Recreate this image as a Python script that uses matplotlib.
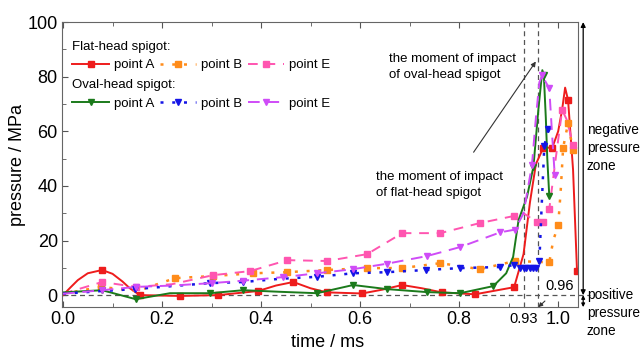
import matplotlib.pyplot as plt
from matplotlib.ticker import MultipleLocator

plt.rcParams['font.family'] = ['Liberation Sans', 'DejaVu Sans']

# flat-head spigot, point A / B / E  (time in ms, pressure in MPa)
flat_a_t = [0, 0.015, 0.03, 0.05, 0.079, 0.1, 0.12, 0.135, 0.155, 0.236, 0.313, 0.394, 0.43, 0.465,
            0.50, 0.533, 0.604, 0.645, 0.685, 0.725, 0.765, 0.832, 0.911, 0.93, 0.943, 0.955, 0.97,
            0.988, 1.0, 1.008, 1.014, 1.02, 1.03, 1.038]
flat_a_p = [0, 2.8, 5.5, 8, 9.2, 7.8, 5, 2.5, 0, -0.3, 0, 1.5, 3.5, 4.8,
            2.5, 1, 0.6, 2, 3.7, 2.5, 1, 0.3, 2.9, 15, 34, 48, 54,
            54, 60, 68, 76, 71.4, 46, 9]
flat_a_mk = [4, 8, 9, 10, 11, 13, 15, 16, 18, 20, 21, 22, 26, 27, 31, 33]

flat_b_t = [0, 0.077, 0.15, 0.226, 0.303, 0.384, 0.453, 0.533, 0.614, 0.685, 0.762, 0.842, 0.913,
            0.982, 0.99, 1.0, 1.005, 1.01, 1.02, 1.03]
flat_b_p = [0.5, 3, 1.5, 6.2, 7, 8, 8.4, 9.2, 9.9, 9.9, 11.7, 9.5, 12.5,
            12, 20, 25.6, 38, 54, 63, 53]
flat_b_mk = [1, 3, 4, 5, 6, 7, 8, 9, 10, 11, 12, 13, 15, 17, 18, 19]

flat_e_t = [0, 0.079, 0.147, 0.22, 0.303, 0.378, 0.453, 0.533, 0.614, 0.685, 0.762, 0.842, 0.911,
            0.93, 0.957, 0.97, 0.982, 0.995, 1.008, 1.018, 1.03]
flat_e_p = [0.5, 4.8, 3, 4, 7.3, 8.8, 12.8, 12.5, 15, 22.7, 22.7, 26.4, 29,
            30, 26.7, 26.7, 31.5, 50, 67.8, 64, 55]
flat_e_mk = [1, 2, 4, 5, 6, 7, 8, 9, 10, 11, 12, 14, 15, 16, 18, 20]

# oval-head spigot, point A / B / E
oval_a_t = [0, 0.079, 0.147, 0.216, 0.297, 0.364, 0.44, 0.513, 0.586, 0.654, 0.735, 0.802, 0.869,
            0.895, 0.909, 0.92, 0.937, 0.95, 0.96, 0.968, 0.971, 0.975, 0.978, 0.982]
oval_a_p = [1, 1.8, -1.5, 0.7, 0.7, 1.8, 1.2, 0.7, 3.7, 2.2, 1.1, 0.7, 3.3,
            8, 14, 27.5, 36, 47, 68, 82.4, 80.6, 65, 50, 36.3]
oval_a_mk = [1, 2, 4, 5, 7, 8, 9, 10, 11, 12, 17, 20, 23]

oval_b_t = [0, 0.079, 0.145, 0.22, 0.297, 0.364, 0.44, 0.513, 0.586, 0.654, 0.733, 0.802, 0.883,
            0.911, 0.923, 0.93, 0.936, 0.943, 0.95, 0.955, 0.962, 0.966, 0.972, 0.98]
oval_b_p = [0.5, 1.5, 2.2, 3.3, 4.4, 4.8, 6, 6.7, 8, 8.4, 9.2, 9.9, 10.3,
            11, 10, 10, 10, 10, 10, 10, 12.5, 30, 54.6, 60.8]
oval_b_mk = [2, 4, 5, 7, 8, 9, 10, 11, 12, 13, 14, 15, 16, 17, 18, 19, 20, 22, 23]

oval_e_t = [0, 0.079, 0.147, 0.22, 0.301, 0.364, 0.445, 0.513, 0.586, 0.654, 0.735, 0.802, 0.883,
            0.913, 0.93, 0.947, 0.955, 0.962, 0.968, 0.975, 0.982, 0.988, 0.993]
oval_e_p = [0.5, 1.8, 3, 3.5, 4.4, 5.3, 6.6, 8, 9.5, 11.5, 14.3, 17.6, 23,
            24, 30, 47.6, 65, 78, 80.5, 78, 75.8, 58, 44]
oval_e_mk = [1, 2, 4, 5, 6, 7, 8, 9, 10, 11, 12, 13, 15, 18, 20, 22]

x_ticks = [0.0, 0.2, 0.4, 0.6, 0.8, 1.0]
y_ticks = [0, 20, 40, 60, 80, 100]
t_flat, t_oval = 0.93, 0.96

red, orange, pink = '#ee1c1c', '#ff8c1a', '#ff55b0'
green, blue, violet = '#1b7a1b', '#1414e6', '#cf4cf7'

fig = plt.figure(figsize=(6.42, 3.51), dpi=100)
ax = fig.add_axes([0.0966, 0.125, 0.8037, 0.812])

kw = dict(lw=1.4, ms=4.5)
fa, = ax.plot(flat_a_t, flat_a_p, color=red, ls='-', marker='s', markevery=flat_a_mk, **kw)
fb, = ax.plot(flat_b_t, flat_b_p, color=orange, ls=(0, (1.2, 3.5)), lw=1.8, marker='s', ms=4.5,
              markevery=flat_b_mk)
fe, = ax.plot(flat_e_t, flat_e_p, color=pink, ls=(0, (5, 4)), marker='s', markevery=flat_e_mk, **kw)
oa, = ax.plot(oval_a_t, oval_a_p, color=green, ls='-', marker='v', markevery=oval_a_mk, **kw)
ob, = ax.plot(oval_b_t, oval_b_p, color=blue, ls=(0, (1.2, 3.5)), lw=1.8, marker='v', ms=5,
              markevery=oval_b_mk)
oe, = ax.plot(oval_e_t, oval_e_p, color=violet, ls=(0, (6, 4)), marker='v', ms=5,
              markevery=oval_e_mk, lw=1.4)

# reference lines
ref = dict(color='#555555', lw=0.9, ls=(0, (4, 3)), zorder=1)
ax.axhline(0, **ref)
ax.axvline(t_flat, **ref)
ax.axvline(t_oval, **ref)
ax.plot([1.04, 1.065], [0, 0], clip_on=False, **ref)

ax.set_xlim(-0.002, 1.04)
ax.set_ylim(-4.4, 100)
ax.set_xticks(x_ticks)
ax.set_xticklabels([f'{v:.1f}' for v in x_ticks])
ax.set_yticks(y_ticks)
ax.xaxis.set_minor_locator(MultipleLocator(0.1))
ax.yaxis.set_minor_locator(MultipleLocator(10))
ax.tick_params(which='both', direction='in', top=True, colors='#555555', labelcolor='black',
               labelsize=13)
ax.tick_params(which='major', length=4, pad=3)
ax.tick_params(which='minor', length=3)
for s in ax.spines.values():
    s.set_color('#666666')

ax.set_xlabel('time / ms', fontsize=13, labelpad=4)
ax.xaxis.label.set_x(0.515)
ax.set_ylabel('pressure / MPa', fontsize=13, labelpad=1)

# legends, one block per spigot shape
lkw = dict(ncol=3, frameon=False, fontsize=9.5, title_fontsize=9.5, alignment='left',
           handlelength=2.8, handletextpad=0.35, columnspacing=0.4, borderpad=0, borderaxespad=0)
leg1 = ax.legend([fa, fb, fe], ['point A', 'point B', 'point E'], title='Flat-head spigot:',
                 loc='upper left', bbox_to_anchor=(0.02, 0.935), **lkw)
ax.add_artist(leg1)
ax.legend([oa, ob, oe], ['point A', 'point B', 'point E'], title='Oval-head spigot:',
          loc='upper left', bbox_to_anchor=(0.02, 0.80), **lkw)

# impact annotations
ax.text(0.658, 83.5, 'the moment of impact\nof oval-head spigot', fontsize=9.5, linespacing=1.45,
        va='center')
ax.text(0.632, 40.5, 'the moment of impact\nof flat-head spigot', fontsize=9.5, linespacing=1.45,
        va='center')
ax.annotate('', xy=(0.958, 86.4), xytext=(0.826, 51.5),
            arrowprops=dict(arrowstyle='-|>', color='#333333', lw=0.8, mutation_scale=7))
ax.annotate('0.96', xy=(t_oval, -4.4), xytext=(1.003, 3.5), fontsize=10.5, ha='center',
            va='center',
            arrowprops=dict(arrowstyle='-|>', color='#333333', lw=0.8, mutation_scale=6,
                            shrinkA=6, shrinkB=0, relpos=(0.3, 0)),
            annotation_clip=False)
ax.text(t_flat, -6.3, '0.93', fontsize=10.5, ha='center', va='top')

# pressure zone arrows outside the right spine
xz = 1.0505
ax.annotate('', xy=(xz, 100), xytext=(xz, 0), annotation_clip=False,
            arrowprops=dict(arrowstyle='<|-|>', color='black', lw=0.9, mutation_scale=7,
                            shrinkA=0, shrinkB=0))
ax.annotate('', xy=(xz, -4.4), xytext=(xz, 0), annotation_clip=False,
            arrowprops=dict(arrowstyle='<|-|>', color='black', lw=0.9, mutation_scale=5,
                            shrinkA=0, shrinkB=0))
ax.text(1.058, 54, 'negative\npressure\nzone', fontsize=9.8, linespacing=1.35, va='center',
        clip_on=False)
ax.text(1.058, -6.5, 'positive\npressure\nzone', fontsize=9.8, linespacing=1.35, va='center',
        clip_on=False)

plt.savefig('out.png', dpi=100)
